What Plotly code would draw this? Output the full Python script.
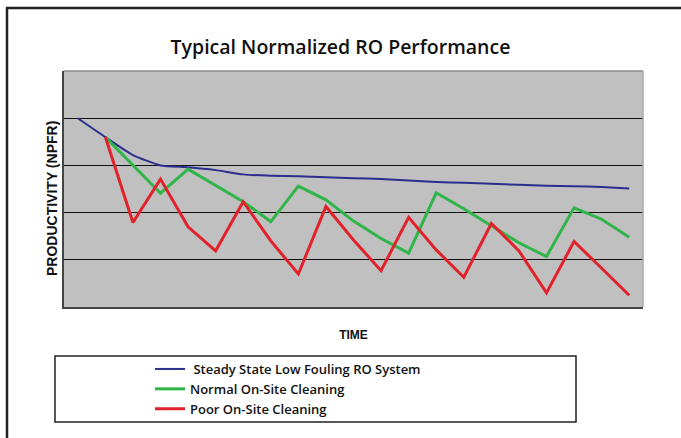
import plotly.graph_objects as go

# ---- data ----
time_idx = list(range(21))
steady = [4.0, 3.6, 3.22, 3.0, 2.96, 2.9, 2.81, 2.78, 2.77, 2.75, 2.73,
          2.71, 2.68, 2.65, 2.63, 2.61, 2.59, 2.57, 2.56, 2.54, 2.51]
normal = [None, 3.6, 3.0, 2.41, 2.92, 2.58, 2.23, 1.81, 2.56, 2.27, 1.82,
          1.45, 1.14, 2.42, 2.08, 1.72, 1.36, 1.07, 2.10, 1.86, 1.48]
poor = [None, 3.6, 1.79, 2.71, 1.70, 1.19, 2.23, 1.40, 0.70, 2.13, 1.42,
        0.77, 1.90, 1.21, 0.63, 1.77, 1.19, 0.30, 1.39, 0.82, 0.25]
series_names = ["\u00a0Steady State Low Fouling RO System",
                "Normal On-Site Cleaning",
                "Poor On-Site Cleaning"]

W, H = 681, 438
L, R, T, B = 64, 38, 71, 131
PW, PH = W - L - R, H - T - B


def px(x):
    return (x - L) / PW


def py(y):
    return (H - B - y) / PH


fig = go.Figure()
fig.add_trace(go.Scatter(x=time_idx, y=steady, mode="lines", name=series_names[0],
                         line=dict(color="#2a2e8c", width=2, shape="spline", smoothing=0.5)))
fig.add_trace(go.Scatter(x=time_idx, y=normal, mode="lines", name=series_names[1],
                         line=dict(color="#2fb548", width=3)))
fig.add_trace(go.Scatter(x=time_idx, y=poor, mode="lines", name=series_names[2],
                         line=dict(color="#e2222b", width=3)))

shapes = [
    # outer frame (top and left)
    dict(type="line", xref="paper", yref="paper", x0=px(6), x1=px(W + 5), y0=py(8), y1=py(8),
         line=dict(color="#222222", width=2.5)),
    dict(type="line", xref="paper", yref="paper", x0=px(7), x1=px(7), y0=py(7), y1=py(H + 5),
         line=dict(color="#222222", width=2.5)),
    # plot-area top and right borders
    dict(type="line", xref="paper", yref="paper", x0=0, x1=1, y0=1, y1=1,
         line=dict(color="#8a8a8a", width=1.5)),
    dict(type="line", xref="paper", yref="paper", x0=1, x1=1, y0=0, y1=1,
         line=dict(color="#a8a8a8", width=1.5)),
    # legend box
    dict(type="rect", xref="paper", yref="paper", x0=px(55), x1=px(576), y0=py(422), y1=py(356),
         line=dict(color="#222222", width=1.5), fillcolor="rgba(0,0,0,0)"),
]

annotations = [
    dict(text="<b>PRODUCTIVITY (NPFR)</b>", xref="paper", yref="paper",
         x=px(52), y=py(199), xanchor="center", yanchor="middle", textangle=-90,
         showarrow=False, font=dict(family="Liberation Sans", size=14, color="#111111")),
]

fig.update_layout(
    width=W, height=H,
    margin=dict(l=L, r=R, t=T, b=B),
    paper_bgcolor="white",
    plot_bgcolor="#c0c0c0",
    title=dict(text="Typical Normalized RO Performance", x=0.5, xanchor="center",
               y=1 - 47 / H, yanchor="middle",
               font=dict(family="Open Sans", size=19.5, color="#111111", weight=600)),
    xaxis=dict(range=[-0.5, 20.5], showticklabels=False, showgrid=False, zeroline=False,
               ticks="", showline=True, linecolor="#444444", linewidth=2,
               title=dict(text="<b>TIME</b>", standoff=23,
                          font=dict(family="Liberation Sans", size=12, color="#111111"))),
    yaxis=dict(range=[0, 5], dtick=1, showticklabels=False, showgrid=True,
               gridcolor="#111111", gridwidth=1, zeroline=False, ticks="",
               showline=True, linecolor="#444444", linewidth=2),
    legend=dict(x=px(150), y=py(354), xanchor="left", yanchor="top",
                bgcolor="rgba(0,0,0,0)", borderwidth=0,
                font=dict(family="Open Sans", size=13, color="#111111", weight=600),
                tracegroupgap=0),
    showlegend=True,
    shapes=shapes,
    annotations=annotations,
)

fig.write_html("out.html", config={"displayModeBar": False},
               post_script="document.body.style.margin='0';")
